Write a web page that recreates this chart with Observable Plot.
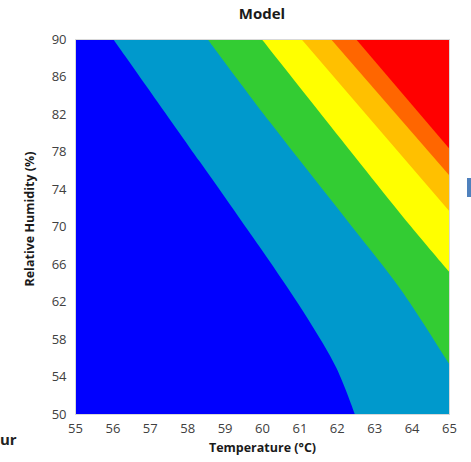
<!DOCTYPE html>
<html>
<head>
<meta charset="utf-8">
<script src="https://cdn.jsdelivr.net/npm/d3@7"></script>
<script src="https://cdn.jsdelivr.net/npm/@observablehq/plot@0.6"></script>
<style>
  html, body { margin: 0; padding: 0; background: #fff; overflow: hidden; }
  #wrap { position: relative; width: 471px; height: 462px; font-family: "Open Sans", sans-serif; }
  #title { position: absolute; left: 75px; width: 374px; top: 3px; text-align: center; font-weight: bold; font-size: 15px; color: #1a1a1a; }
  #chart { position: absolute; left: 0; top: 30px; }
  #stub { position: absolute; left: 0px; top: 429px; font-size: 15px; font-weight: bold; color: #222; }
  #side { position: absolute; left: 467px; top: 178px; width: 6px; height: 19px; background: #4f81bd; }
</style>
</head>
<body>
<div id="wrap">
  <div id="title">Model</div>
  <div id="chart"></div>
  <div id="stub">ur</div>
  <div id="side"></div>
</div>
<script>
// Tick labels
const xTicks = [55, 56, 57, 58, 59, 60, 61, 62, 63, 64, 65];
const yTicks = [50, 54, 58, 62, 66, 70, 74, 78, 82, 86, 90];
const xLabel = "Temperature (°C)";
const yLabel = "Relative Humidity (%)";

// Band colours (low -> high)
const bandColors = ["#0000ff", "#0099cc", "#33cc33", "#ffff00", "#ffc000", "#ff6600", "#ff0000"];

// Left edge of each band: [temperature, humidity] points
const blueEdge   = [[55, 90], [55, 50]];
const tealEdge   = [[56.02, 90], [58.34, 76.9], [59.52, 70.2], [60.18, 66.44], [61.22, 60.2], [61.99, 54.9], [62.48, 50]];
const greenEdge  = [[58.54, 90], [60.2, 81.2], [62.37, 70.17], [63.69, 63.4], [65.02, 55.25]];
const yellowEdge = [[59.99, 90], [63.95, 70.17], [65.0, 65.2]];
const goldEdge   = [[61.05, 90], [65.02, 71.6]];
const orangeEdge = [[61.84, 90], [65.0, 75.5]];
const redEdge    = [[62.51, 90], [65.0, 78.35]];

const edges = [blueEdge, tealEdge, greenEdge, yellowEdge, goldEdge, orangeEdge, redEdge];

const bandMarks = edges.map((edge, i) =>
  Plot.areaX(edge.map(([t, rh]) => ({t, rh})), {
    y: "rh",
    x1: "t",
    x2: xTicks[xTicks.length - 1],
    fill: bandColors[i],
    curve: "catmull-rom",
    clip: true
  })
);

const chart = Plot.plot({
  width: 471,
  height: 432,
  marginLeft: 75,
  marginRight: 22,
  marginTop: 9,
  marginBottom: 48,
  style: { fontFamily: "Open Sans, sans-serif", fontSize: "13px", color: "#404040", background: "transparent" },
  x: { domain: [55, 65] },
  y: { domain: [50, 90] },
  marks: [
    ...bandMarks,
    Plot.frame({ stroke: "#d9d9d9" }),
    Plot.axisX(xTicks, { tickSize: 0, tickPadding: 9, label: null, fontSize: 13 }),
    Plot.axisY(yTicks, { tickSize: 0, tickPadding: 9, label: null, fontSize: 13 }),
    Plot.text([xLabel], { frameAnchor: "bottom", dy: 37, fontWeight: "bold", fontSize: 12.5, fill: "#1a1a1a" }),
    Plot.text([yLabel], { frameAnchor: "left", textAnchor: "middle", rotate: -90, dx: -46, dy: -8, fontWeight: "bold", fontSize: 12.5, fill: "#1a1a1a" })
  ]
});
document.getElementById("chart").appendChild(chart);
</script>
</body>
</html>
